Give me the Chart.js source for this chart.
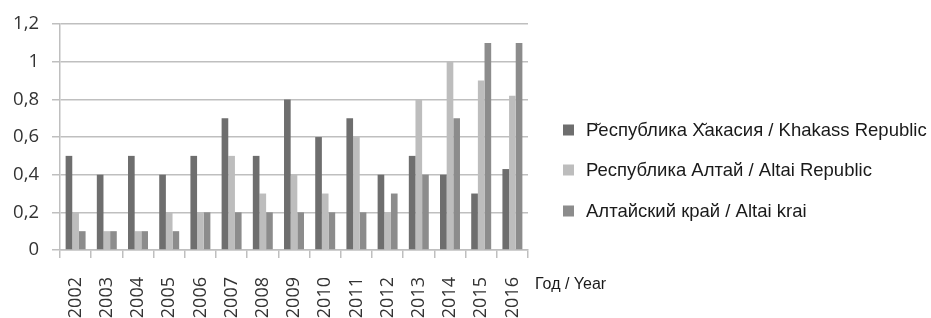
<!DOCTYPE html>
<html>
<head>
<meta charset="utf-8">
<script src="https://cdn.jsdelivr.net/npm/chart.js@4"></script>
<style>
  html, body { margin: 0; padding: 0; background: #fff; }
  #wrap { width: 931px; height: 318px; position: relative; }
</style>
</head>
<body>
<div id="wrap"><canvas id="chart"></canvas></div>
<script>
const years = ["2002", "2003", "2004", "2005", "2006", "2007", "2008", "2009",
  "2010", "2011", "2012", "2013", "2014", "2015", "2016"];
const khakass = [0.5, 0.4, 0.5, 0.4, 0.5, 0.7, 0.5, 0.8, 0.6, 0.7, 0.4, 0.5, 0.4, 0.3, 0.43];
const altaiRep = [0.2, 0.1, 0.1, 0.2, 0.2, 0.5, 0.3, 0.4, 0.3, 0.6, 0.2, 0.8, 1.0, 0.9, 0.82];
const altaiKrai = [0.1, 0.1, 0.1, 0.1, 0.2, 0.2, 0.2, 0.2, 0.2, 0.2, 0.3, 0.4, 0.7, 1.1, 1.1];
const seriesNames = [
  "Р\u0306еспублика Х\u0306акасия / Khakass Republic",
  "Республика Алтай / Altai Republic",
  "Алтайский край / Altai krai"
];
const seriesColors = ["#6e6e6e", "#bdbdbd", "#8c8c8c"];
const axisTitle = "Год / Year";

const gridColor = "#bfbfbf";

/* legend + axis title drawn beside the plot */
const sidePlugin = {
  id: "side",
  afterDraw(chart) {
    const ctx = chart.ctx;
    const area = chart.chartArea;
    ctx.save();
    ctx.textBaseline = "middle";
    ctx.textAlign = "left";
    ctx.font = "18.5px 'Liberation Sans', Arial, sans-serif";
    const rows = [130, 170, 211];
    chart.data.datasets.forEach((ds, i) => {
      ctx.fillStyle = ds.backgroundColor;
      ctx.fillRect(563, rows[i] - 5.5, 11, 11);
      ctx.fillStyle = "#1a1a1a";
      ctx.fillText(ds.label, 586, rows[i] + 1);
    });
    ctx.font = "16px 'Liberation Sans', Arial, sans-serif";
    ctx.fillText(axisTitle, area.right + 7, 285);
    ctx.restore();
  }
};

new Chart(document.getElementById("chart"), {
  type: "bar",
  data: {
    labels: years,
    datasets: [khakass, altaiRep, altaiKrai].map((vals, i) => ({
      label: seriesNames[i],
      data: vals,
      backgroundColor: seriesColors[i],
      borderWidth: 0,
      barPercentage: 1,
      categoryPercentage: 0.64
    }))
  },
  options: {
    responsive: true,
    maintainAspectRatio: false,
    animation: false,
    layout: { padding: { top: 22, right: 403, left: 0, bottom: 0 } },
    plugins: { legend: { display: false }, tooltip: { enabled: false } },
    scales: {
      x: {
        afterFit(scale) { scale.height = 68; },
        grid: {
          drawOnChartArea: false,
          drawTicks: true,
          tickLength: 8,
          color: gridColor,
          lineWidth: 1.5
        },
        border: { color: gridColor, width: 1.5 },
        ticks: {
          minRotation: 90,
          maxRotation: 90,
          padding: 19,
          color: "#333",
          font: { family: "'Open Sans', sans-serif", size: 18 }
        }
      },
      y: {
        min: 0,
        max: 1.2,
        afterFit(scale) { scale.width = 60; },
        grid: {
          color: gridColor,
          lineWidth: 1.5,
          tickLength: 8
        },
        border: { color: gridColor, width: 1.5 },
        ticks: {
          stepSize: 0.2,
          padding: 13,
          color: "#333",
          font: { family: "'Open Sans', sans-serif", size: 18.5 },
          callback: v => String(Math.round(v * 10) / 10).replace(".", ",")
        }
      }
    }
  },
  plugins: [sidePlugin]
});
</script>
</body>
</html>
